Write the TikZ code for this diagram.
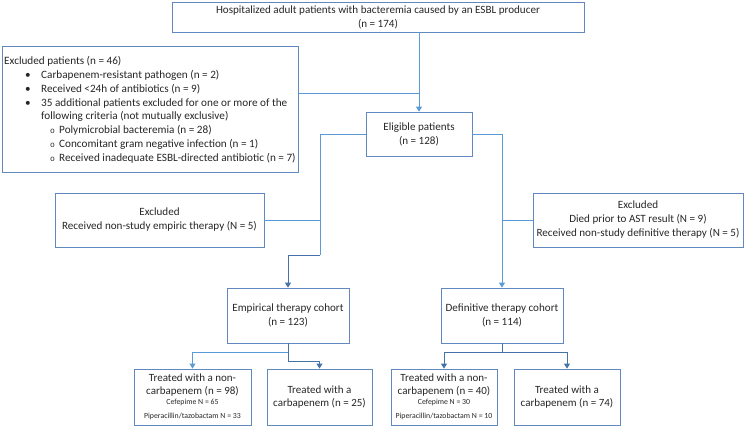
\documentclass[tikz,border=0pt]{standalone}
\usepackage{fontspec}
\setmainfont{Carlito}
\newfontfamily\monof{Liberation Mono}
\usetikzlibrary{arrows.meta}
\definecolor{boxc}{HTML}{6289BF}
\definecolor{lightc}{HTML}{5B9BD5}
\definecolor{darkc}{HTML}{4572A7}
\definecolor{txt}{HTML}{262626}
\tikzset{
  x=1pt, y=-1pt,
  box/.style={draw=boxc, line width=0.8pt, rectangle, inner sep=0pt, align=center, text=txt,
    font=\fontsize{11.1}{14}\selectfont},
  exline/.style={anchor=base west, inner sep=0pt, text=txt, font=\fontsize{11.2}{14}\selectfont},
  conl/.style={draw=lightc, line width=0.9pt},
  cond/.style={draw=darkc, line width=0.9pt},
  tipl/.style={-{Triangle[width=6pt,length=5pt]}},
}
\newcommand{\sm}[1]{{\fontsize{7.8}{9}\selectfont #1}}
\begin{document}
\begin{tikzpicture}
\useasboundingbox (0,0) rectangle (745,427);
% boxes
\node[box, minimum width=412, minimum height=30] (top) at (378,17)
  {Hospitalized adult patients with bacteremia caused by an ESBL producer\\(n = 174)};
\node[box, minimum width=296, minimum height=126] (excl) at (150,109) {};
\node[box, minimum width=106, minimum height=44] (elig) at (419,134) {Eligible patients\\(n = 128)};
\node[box, minimum width=209, minimum height=54] (exE) at (159.5,220)
  {Excluded\\Received non-study empiric therapy (N = 5)};
\node[box, minimum width=210, minimum height=54] (exD) at (638,220)
  {Excluded\\Died prior to AST result (N = 9)\\Received non-study definitive therapy (N = 5)};
\node[box, minimum width=122, minimum height=55] (emp) at (288,315.5) {Empirical therapy cohort\\(n = 123)};
\node[box, minimum width=122, minimum height=55] (def) at (502,315.5) {Definitive therapy cohort\\(n = 114)};
\node[box, minimum width=117, minimum height=56, font=\fontsize{11}{13}\selectfont] (e1) at (192.5,397)
  {Treated with a non-\\carbapenem (n = 98)\\[-3pt]\sm{Cefepime N = 65}\\[1.5pt]\sm{Piperacillin/tazobactam N = 33}};
\node[box, minimum width=105, minimum height=56, font=\fontsize{11}{13}\selectfont] (e2) at (319.5,397)
  {Treated with a\\carbapenem (n = 25)};
\node[box, minimum width=106, minimum height=56, font=\fontsize{11}{13}\selectfont] (d1) at (444,397)
  {Treated with a non-\\carbapenem (n = 40)\\[-3pt]\sm{Cefepime N = 30}\\[1.5pt]\sm{Piperacillin/tazobactam N = 10}};
\node[box, minimum width=106, minimum height=56, font=\fontsize{11}{13}\selectfont] (d2) at (567,397)
  {Treated with a\\carbapenem (n = 74)};
% excluded list
\node[exline] (x0) at (4,64.5) {Excluded patients (n = 46)};
\node[exline] (x1) at (25,78.4) {\makebox[16pt][l]{•}Carbapenem-resistant pathogen (n = 2)};
\node[exline] (x2) at (25,92.2) {\makebox[16pt][l]{•}Received <24h of antibiotics (n = 9)};
\node[exline] (x3) at (25,106.1) {\makebox[16pt][l]{•}35 additional patients excluded for one or more of the};
\node[exline] (x4) at (41,120) {following criteria (not mutually exclusive)};
\node[exline] (x5) at (50,133.8) {\makebox[9pt][l]{\monof\fontsize{8}{8}\selectfont o}Polymicrobial bacteremia (n = 28)};
\node[exline] (x6) at (50,147.7) {\makebox[9pt][l]{\monof\fontsize{8}{8}\selectfont o}Concomitant gram negative infection (n = 1)};
\node[exline] (x7) at (50,161.5) {\makebox[9pt][l]{\monof\fontsize{8}{8}\selectfont o}Received inadequate ESBL-directed antibiotic (n = 7)};
% connectors
\coordinate (j1) at (419,93);
\draw[conl, tipl] (top.south -| elig.north) -- (elig.north);
\draw[conl] (j1 -| excl.east) -- (j1);
\coordinate (eL) at (320,255);
\draw[conl] (elig.west) -| (eL);
\draw[cond, tipl] (eL) -| (emp.north);
\draw[conl] (exE.east) -- (exE.east -| eL);
\draw[conl, tipl] (elig.east) -| (def.north);
\draw[conl] (exD.west) -- (exD.west -| def.north);
\coordinate (ea) at (288,352);
\coordinate (eb) at (288,361);
\draw[cond] (emp.south) -- (ea);
\draw[conl, tipl] (ea) -| (e1.north);
\draw[cond, tipl] (ea) -- (eb) -| (e2.north);
\coordinate (da) at (502,352);
\draw[cond] (def.south) -- (da);
\draw[cond, tipl] (da) -| (d1.north);
\draw[cond, tipl] (da) -| (d2.north);
\end{tikzpicture}
\end{document}
